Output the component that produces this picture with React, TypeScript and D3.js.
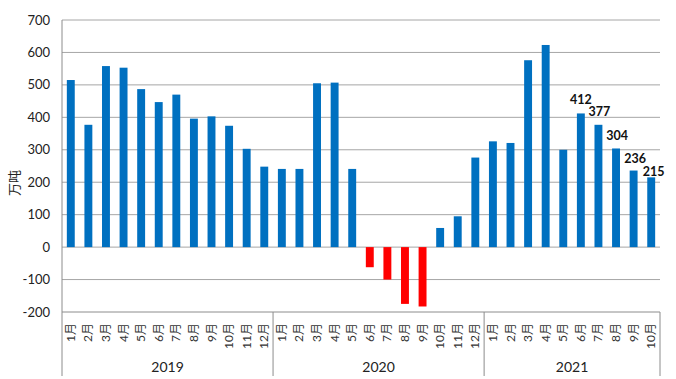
import React from "react";
import * as d3 from "d3";

const years = ["2019", "2020", "2021"];
const monthsPerYear = [12, 12, 10];
const values2019 = [515, 377, 558, 553, 487, 447, 470, 396, 403, 374, 303, 248];
const values2020 = [241, 241, 505, 507, 241, -62, -100, -175, -183, 59, 95, 276];
const values2021 = [326, 321, 576, 623, 300, 412, 377, 304, 236, 215];
const labeledIndices2021 = [5, 6, 7, 8, 9];
const yTicks = [-200, -100, 0, 100, 200, 300, 400, 500, 600, 700];
const yLabel = "万吨";

// label placement tweaks (style only)
const labelDx = [0, 1, 1, 1.5, 2.5];
const labelDy = [-9, -9, -8, -8, -1.5];

const W = 676;
const H = 379;
const left = 62;
const right = 660;
const top = 20;
const bottom = 312;
const font = "Lato, 'Noto Sans CJK SC', sans-serif";

export default function App() {
  const allValues = [values2019, values2020, values2021];
  const data: { key: string; month: string; year: string; value: number; li: number }[] = [];
  allValues.forEach((arr, yi) => {
    arr.forEach((v, i) => {
      data.push({
        key: `${years[yi]}-${i + 1}`,
        month: `${i + 1}月`,
        year: years[yi],
        value: v,
        li: yi === 2 ? labeledIndices2021.indexOf(i) : -1,
      });
    });
  });

  const x = d3.scaleBand<string>().domain(data.map((d) => d.key)).range([left, right]).paddingInner(0.55).paddingOuter(0.275);
  const xOuter = d3.scaleBand<string>().domain(data.map((d) => d.key)).range([left, right]);
  const y = d3.scaleLinear().domain([-200, 700]).range([bottom, top]);

  const boundaries: number[] = [left];
  let acc = 0;
  monthsPerYear.forEach((n) => {
    acc += n;
    boundaries.push(left + (acc / data.length) * (right - left));
  });

  return (
    <svg width={W} height={H} style={{ position: "absolute", left: 0, top: 0, background: "#fff" }}>
      {yTicks.map((t) => (
        <line key={t} x1={left} x2={right} y1={y(t)} y2={y(t)} stroke={t === -200 ? "#8c8c8c" : "#a6a6a6"} strokeWidth={1} />
      ))}
      {yTicks.map((t) => (
        <text key={"l" + t} x={50} y={y(t)} dy="0.35em" textAnchor="end" fontSize={13} fontFamily={font} fill="#222">
          {t}
        </text>
      ))}
      <text transform={`translate(19,${(top + bottom) / 2 + 17}) rotate(-90)`} textAnchor="middle" fontSize={13} fontFamily={font} fill="#222">
        {yLabel}
      </text>
      {data.map((d) => (
        <rect
          key={d.key}
          x={x(d.key)}
          width={x.bandwidth()}
          y={y(Math.max(0, d.value))}
          height={Math.abs(y(d.value) - y(0))}
          fill={d.value < 0 ? "#ff0000" : "#0070c0"}
        />
      ))}
      {data.filter((d) => d.li >= 0).map((d) => (
        <text
          key={"v" + d.key}
          x={(xOuter(d.key) as number) + xOuter.bandwidth() / 2 + labelDx[d.li]}
          y={y(d.value) + labelDy[d.li]}
          textAnchor="middle"
          fontSize={12.5}
          fontWeight="bold"
          fontFamily={font}
          fill="#111"
        >
          {d.value}
        </text>
      ))}
      <line x1={left} x2={left} y1={top} y2={bottom} stroke="#8c8c8c" />
      {boundaries.map((b, i) => (
        <line key={"b" + i} x1={b} x2={b} y1={bottom} y2={376} stroke="#8c8c8c" />
      ))}
      {data.map((d) => {
        const cx = (xOuter(d.key) as number) + xOuter.bandwidth() / 2;
        return (
          <text
            key={"m" + d.key}
            transform={`translate(${cx + 4},${323}) rotate(-90)`}
            textAnchor="end"
            fontSize={12}
            fontFamily={font}
            fill="#333"
          >
            {d.month}
          </text>
        );
      })}
      {years.map((yr, i) => (
        <text key={yr} x={(boundaries[i] + boundaries[i + 1]) / 2} y={372} textAnchor="middle" fontSize={14} fontFamily={font} fill="#222">
          {yr}
        </text>
      ))}
    </svg>
  );
}
